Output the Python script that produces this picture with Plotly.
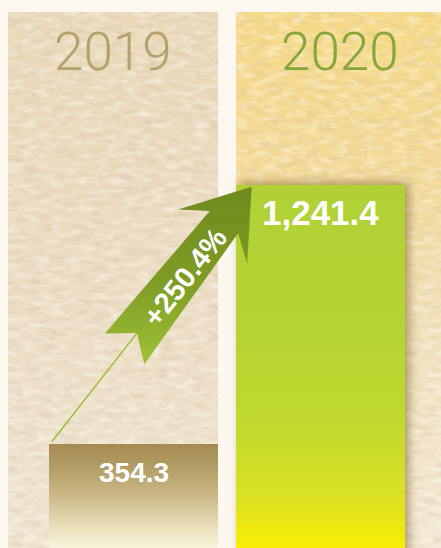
import base64
import math
import plotly.graph_objects as go

# ---------------- data ----------------
categories = ["2019", "2020"]
values = [354.3, 1241.4]
value_labels = ["354.3", "1,241.4"]
growth_pct = (values[1] / values[0] - 1) * 100
growth_label = f"+{growth_pct:.1f}%"

# ---------------- geometry helpers ----------------
W, H = 441, 548
Y_MAX = 1875.0
PX_X = 187.0                    # pixels per category step
PX_Y = H / Y_MAX                # pixels per value unit
X_RANGE = [-133.5 / PX_X, 1 + (W - 320.5) / PX_X]
BAR_W = 169 / PX_X
xs = list(range(len(categories)))


def dxp(px):
    return px / PX_X


def dyp(px):
    return px / PX_Y


def svg_uri(svg):
    return "data:image/svg+xml;base64," + base64.b64encode(svg.encode()).decode()


def texture_svg(w, h, stops, seed):
    stop_xml = "".join(f"<stop offset='{o}' stop-color='{c}'/>" for o, c in stops)
    return f"""<svg xmlns='http://www.w3.org/2000/svg' width='{w}' height='{h}' viewBox='0 0 {w} {h}' preserveAspectRatio='none'>
<defs>
<linearGradient id='g' x1='0' y1='0' x2='0' y2='1'>{stop_xml}</linearGradient>
<filter id='d' x='0' y='0' width='100%' height='100%'>
<feTurbulence type='fractalNoise' baseFrequency='0.06 0.16' numOctaves='3' seed='{seed}'/>
<feColorMatrix values='0 0 0 0 0.62  0 0 0 0 0.50  0 0 0 0 0.32  2.4 0 0 0 -1.1'/>
</filter>
<filter id='l' x='0' y='0' width='100%' height='100%'>
<feTurbulence type='fractalNoise' baseFrequency='0.07 0.18' numOctaves='3' seed='{seed + 7}'/>
<feColorMatrix values='0 0 0 0 1  0 0 0 0 1  0 0 0 0 0.97  0 2.4 0 0 -1.05'/>
</filter>
</defs>
<rect width='{w}' height='{h}' fill='url(#g)'/>
<rect width='{w}' height='{h}' filter='url(#d)' opacity='0.35'/>
<rect width='{w}' height='{h}' filter='url(#l)' opacity='0.45'/>
</svg>"""


images = []
# background panels (decorative)
images.append(dict(
    source=svg_uri(texture_svg(210, 536, [(0, "#ead8b9"), (0.5, "#ecdcc2"), (1, "#f0e5d1")], 3)),
    xref="paper", yref="paper", x=8 / W, y=1 - 12 / H, sizex=210 / W, sizey=536 / H,
    xanchor="left", yanchor="top", sizing="stretch", layer="below"))
images.append(dict(
    source=svg_uri(texture_svg(210, 536, [(0, "#f6d986"), (0.3, "#f4da98"), (0.62, "#f1e1bd"), (1, "#f3e8d4")], 11)),
    xref="paper", yref="paper", x=236 / W, y=1 - 12 / H, sizex=210 / W, sizey=536 / H,
    xanchor="left", yanchor="top", sizing="stretch", layer="below"))

# soft shadow around the 2020 bar
PAD = 18
bw_px = 169
bh_px = values[1] * PX_Y
shadow_svg = f"""<svg xmlns='http://www.w3.org/2000/svg' width='{bw_px + 2 * PAD}' height='{bh_px + PAD + 10}' viewBox='0 0 {bw_px + 2 * PAD} {bh_px + PAD + 10}' preserveAspectRatio='none'>
<filter id='b' x='-20%' y='-20%' width='140%' height='140%'><feGaussianBlur stdDeviation='5'/></filter>
<rect x='{PAD + 4}' y='{PAD - 3}' width='{bw_px}' height='{bh_px + 20}' fill='rgb(115,90,35)' fill-opacity='0.55' filter='url(#b)'/>
</svg>"""
images.append(dict(
    source=svg_uri(shadow_svg), xref="x", yref="y",
    x=xs[1] - BAR_W / 2 - dxp(PAD), y=values[1] + dyp(PAD),
    sizex=BAR_W + 2 * dxp(PAD), sizey=values[1] + dyp(PAD + 10),
    xanchor="left", yanchor="top", sizing="stretch", layer="below"))

fig = go.Figure()

# bars (base)
fig.add_trace(go.Bar(x=xs, y=values, width=BAR_W, marker=dict(color=["#a68c53", "#b1d236"], line=dict(width=0)),
                     hoverinfo="skip", showlegend=False))

# gradient overlays on the bars
bar_scales = [
    [[0, "#f8f3da"], [0.18, "#ece3bf"], [0.5, "#cbb988"], [0.78, "#b39d66"], [1, "#a58b51"]],
    [[0, "#f9ee03"], [0.13, "#dde222"], [0.33, "#c2d92d"], [0.6, "#b5d433"], [1, "#b0d136"]],
]
for i, v in enumerate(values):
    x0, x1 = xs[i] - BAR_W / 2, xs[i] + BAR_W / 2
    fig.add_trace(go.Scatter(
        x=[x0, x1, x1, x0, x0], y=[0, 0, v, v, 0], mode="lines", fill="toself",
        line=dict(width=0), fillgradient=dict(type="vertical", colorscale=bar_scales[i], start=0, stop=v),
        hoverinfo="skip", showlegend=False))

# growth arrow (computed from the two bars)
A = (xs[0] - BAR_W / 2 + dxp(3), values[0] + dyp(3))
T = (xs[1] - BAR_W / 2 + dxp(15.7), values[1] - dyp(1.5))
vx, vy = (T[0] - A[0]) * PX_X, (T[1] - A[1]) * PX_Y
L = (vx ** 2 + vy ** 2) ** 0.5
ux, uy = vx / L, vy / L
nx, ny = uy, -ux


def at(along, perp):
    ox = along * ux + perp * nx
    oy = along * uy + perp * ny
    return T[0] + ox / PX_X, T[1] + oy / PX_Y


outline = [(0, 0), (-63.5, 44), (-45, 18), (-206, 25), (-186, 0), (-206, -25), (-45, -18), (-63.5, -44), (0, 0)]
pts = [at(a, p) for a, p in outline]
notch = at(-186, 0)

fig.add_trace(go.Scatter(x=[A[0], notch[0]], y=[A[1], notch[1]], mode="lines",
                         line=dict(color="#95bd35", width=1.4), hoverinfo="skip", showlegend=False))
ay_lo = min(p[1] for p in pts)
ay_hi = max(p[1] for p in pts)
fig.add_trace(go.Scatter(
    x=[p[0] for p in pts], y=[p[1] for p in pts], mode="lines", fill="toself", line=dict(width=0),
    fillgradient=dict(type="vertical", colorscale=[[0, "#9ec338"], [0.45, "#7f9d25"], [1, "#6e8a1d"]],
                      start=ay_lo, stop=ay_hi),
    hoverinfo="skip", showlegend=False))

angle = -math.degrees(math.atan2(uy, ux))
tc = at(-112, 3)
annotations = [dict(x=tc[0], y=tc[1], xref="x", yref="y", text=growth_label, showarrow=False,
                    textangle=angle, xanchor="center", yanchor="middle",
                    font=dict(family="Liberation Sans", size=29, color="white", weight="bold"))]

# value labels
label_sizes = [28, 35]
label_shift = [-28, -27]
for i, v in enumerate(values):
    annotations.append(dict(x=xs[i], y=v, xref="x", yref="y", text=value_labels[i], showarrow=False,
                            xanchor="center", yanchor="middle", yshift=label_shift[i],
                            font=dict(family="Liberation Sans", size=label_sizes[i], color="white", weight="bold")))

# year labels centred on the panels
year_colors = ["#b3a26c", "#87a63a"]
panel_centers = [113 / W, 340 / W]
for i, c in enumerate(categories):
    annotations.append(dict(x=panel_centers[i], y=1 - 52 / H, xref="paper", yref="paper", text=c,
                            showarrow=False, xanchor="center", yanchor="middle",
                            font=dict(family="Roboto", size=53, color=year_colors[i], weight=300)))

fig.update_layout(
    width=W, height=H, margin=dict(l=0, r=0, t=0, b=0),
    paper_bgcolor="#fcf8f0", plot_bgcolor="rgba(0,0,0,0)",
    xaxis=dict(range=X_RANGE, visible=False, fixedrange=True),
    yaxis=dict(range=[0, Y_MAX], visible=False, fixedrange=True),
    images=images, annotations=annotations, showlegend=False, bargap=0,
)

fig.write_html("out.html", config={"displayModeBar": False},
               post_script="document.body.style.margin='0';document.body.style.background='#fcf8f0';")
